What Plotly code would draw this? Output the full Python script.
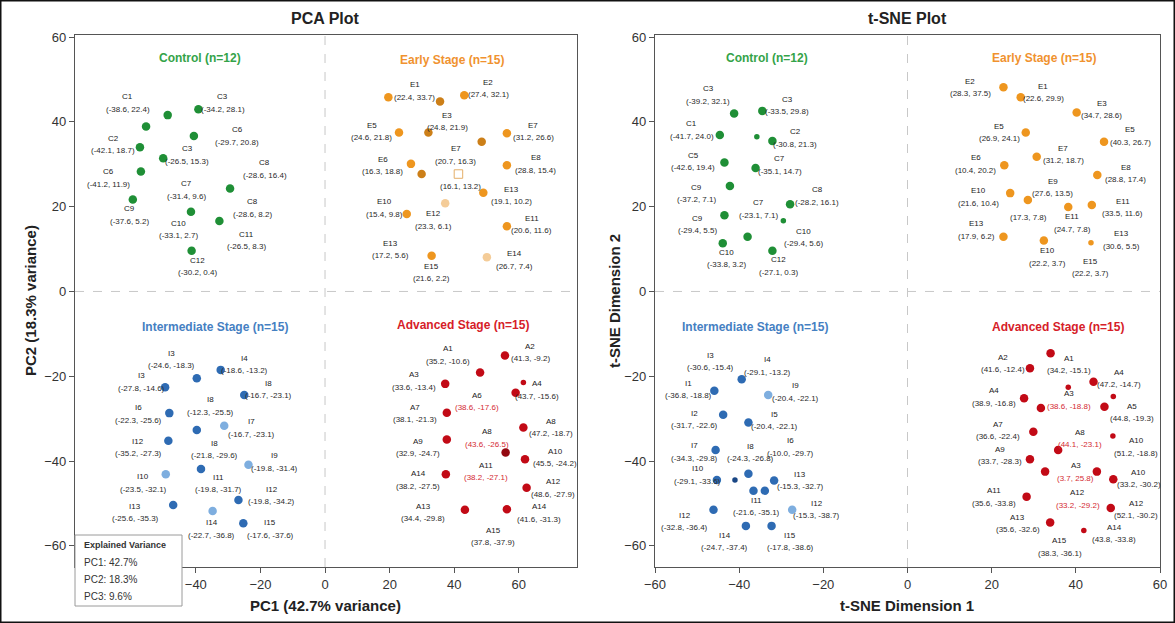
import plotly.graph_objects as go

# ---------------- DATA ----------------
group_titles = ["Control (n=12)", "Early Stage (n=15)", "Intermediate Stage (n=15)", "Advanced Stage (n=15)"]
pca_variance = {"PC1": 42.7, "PC2": 18.3, "PC3": 9.6}

# PCA points
pca_control_x = [-48.7, -39.2, -55.4, -40.6, -57.3, -50.1, -57.0, -29.4, -59.5, -41.5, -32.7, -41.3]
pca_control_y = [41.6, 43.0, 38.9, 36.7, 34.0, 31.4, 28.3, 24.3, 21.7, 18.8, 16.6, 9.6]
pca_control_tone = ["n"] * 12

pca_early_x = [19.6, 35.6, 43.1, 22.9, 32.0, 56.3, 48.5, 26.6, 56.3, 29.9, 41.3, 49.0, 37.2, 25.3, 56.3, 33.0, 50.1]
pca_early_y = [45.8, 44.8, 46.3, 37.5, 37.5, 37.3, 35.3, 30.1, 29.8, 27.7, 27.7, 23.3, 20.8, 18.3, 15.4, 8.4, 8.1]
pca_early_tone = ["n", "d", "n", "n", "d", "n", "d", "n", "n", "d", "q", "n", "p", "n", "n", "n", "p"]

pca_inter_x = [-32.3, -39.7, -49.5, -25.0, -48.2, -31.2, -39.7, -48.5, -23.7, -38.4, -49.3, -26.8, -47.0, -34.8, -25.3]
pca_inter_y = [-18.5, -20.5, -22.6, -24.4, -28.7, -31.7, -32.7, -35.2, -40.9, -41.9, -43.1, -49.2, -50.4, -51.8, -54.7]
pca_inter_tone = ["n", "n", "n", "n", "n", "p", "n", "n", "p", "n", "p", "n", "n", "p", "n"]

pca_adv_x = [55.7, 48.0, 37.2, 61.4, 59.0, 37.7, 61.4, 37.7, 55.9, 61.9, 37.4, 62.4, 43.3, 56.3]
pca_adv_y = [-15.1, -19.1, -21.8, -21.5, -23.9, -28.6, -32.1, -34.9, -38.0, -39.6, -43.1, -46.3, -51.5, -51.4]
pca_adv_tone = ["n", "n", "n", "s", "n", "n", "n", "n", "d", "n", "n", "n", "n", "n"]

# PCA point labels: names, coordinate texts, anchor (data coords)
pca_control_names = ["C1", "C3", "C6", "C2", "C3", "C6", "C8", "C7", "C9", "C8", "C10", "C11", "C12"]
pca_control_coords = ["(-38.6, 22.4)", "(-34.2, 28.1)", "(-29.7, 20.8)", "(-42.1, 18.7)", "(-26.5, 15.3)",
                      "(-41.2, 11.9)", "(-28.6, 16.4)", "(-31.4, 9.6)", "(-37.6, 5.2)", "(-28.6, 8.2)",
                      "(-33.1, 2.7)", "(-26.5, 8.3)", "(-30.2, 0.4)"]
pca_control_lx = [-61.1, -31.7, -27.1, -65.5, -42.6, -66.9, -18.6, -42.8, -60.4, -22.4, -45.4, -24.2, -39.5]
pca_control_ly = [44.4, 44.4, 36.6, 34.6, 32.1, 26.7, 28.8, 23.9, 18.0, 19.6, 14.6, 12.0, 5.8]

pca_early_names = ["E1", "E2", "E3", "E5", "E7", "E7", "E6", "E8", "", "E13", "E10", "E12", "E11", "E13", "E14", "E15"]
pca_early_coords = ["(22.4, 33.7)", "(27.4, 32.1)", "(24.8, 21.9)", "(24.6, 21.8)", "(31.2, 26.6)", "(20.7, 16.3)",
                    "(16.3, 18.8)", "(28.8, 15.4)", "(16.1, 13.2)", "(19.1, 10.2)", "(15.4, 9.8)", "(23.3, 6.1)",
                    "(20.6, 11.6)", "(17.2, 5.6)", "(26.7, 7.4)", "(21.6, 2.2)"]
pca_early_lx = [27.7, 50.6, 37.9, 14.5, 64.5, 40.5, 17.8, 65.3, 41.8, 57.8, 18.3, 33.7, 64.0, 20.4, 58.5, 33.0]
pca_early_ly = [47.2, 47.8, 40.0, 37.7, 37.7, 32.1, 29.6, 30.0, 26.1, 22.6, 19.6, 16.8, 15.7, 9.8, 7.4, 4.4]

pca_inter_names = ["I3", "I4", "I3", "I8", "I6", "I8", "I7", "I12", "I8", "I9", "I10", "I11", "I12", "I13", "I14", "I15"]
pca_inter_coords = ["(-24.6, -18.3)", "(-18.6, -13.2)", "(-27.8, -14.6)", "(-16.7, -23.1)", "(-22.3, -25.6)",
                    "(-12.3, -25.5)", "(-16.7, -23.1)", "(-35.2, -27.3)", "(-21.8, -29.6)", "(-19.8, -31.4)",
                    "(-23.5, -32.1)", "(-19.8, -31.7)", "(-19.8, -34.2)", "(-25.6, -35.3)", "(-22.7, -36.8)",
                    "(-17.6, -37.6)"]
pca_inter_lx = [-47.5, -24.8, -56.7, -17.6, -57.8, -35.6, -22.7, -57.8, -34.1, -15.5, -56.3, -33.0, -16.5, -58.8, -35.1, -17.0]
pca_inter_ly = [-16.1, -17.3, -21.4, -23.2, -29.0, -27.1, -32.3, -36.9, -37.3, -40.3, -45.2, -45.4, -48.2, -52.2, -56.1, -56.1]

pca_adv_names = ["A1", "A2", "A3", "A4", "A6", "A7", "A8", "A8", "A9", "A10", "A11", "A14", "A12", "A13", "A14", "A15"]
pca_adv_coords = ["(35.2, -10.6)", "(41.3, -9.2)", "(33.6, -13.4)", "(43.7, -15.6)", "(38.6, -17.6)",
                  "(38.1, -21.3)", "(47.2, -18.7)", "(43.6, -26.5)", "(32.9, -24.7)", "(45.5, -24.2)",
                  "(38.2, -27.1)", "(38.2, -27.5)", "(48.6, -27.9)", "(34.4, -29.8)", "(41.6, -31.3)",
                  "(37.8, -37.9)"]
pca_adv_lx = [38.2, 63.5, 27.6, 65.5, 47.0, 27.9, 69.9, 50.1, 28.9, 71.2, 49.8, 28.9, 70.7, 30.4, 66.3, 52.1]
pca_adv_ly = [-15.0, -14.4, -21.2, -23.3, -26.0, -28.8, -32.1, -34.6, -36.9, -39.2, -42.5, -44.5, -46.4, -52.2, -52.3, -57.9]
pca_adv_red = [4, 7, 10]

# t-SNE points
tsne_control_x = [-41.2, -34.5, -44.6, -35.8, -32.1, -43.5, -36.1, -42.2, -27.9, -43.5, -29.5, -38.0, -43.9, -32.1]
tsne_control_y = [42.0, 42.6, 36.9, 36.5, 35.5, 30.4, 29.1, 24.9, 20.6, 18.0, 16.7, 12.9, 11.4, 9.6]
tsne_control_tone = ["n", "n", "n", "s", "n", "n", "n", "n", "n", "n", "s", "n", "n", "n"]

tsne_early_x = [22.8, 26.9, 40.2, 28.1, 46.7, 30.7, 23.0, 45.1, 24.4, 28.6, 38.2, 43.8, 22.8, 32.4, 43.6]
tsne_early_y = [48.2, 45.8, 42.2, 37.5, 35.3, 31.8, 29.8, 27.5, 23.2, 21.6, 19.9, 20.4, 12.9, 12.0, 11.5]
tsne_early_tone = ["n"] * 14 + ["s"]

tsne_inter_x = [-39.4, -45.9, -33.1, -43.8, -37.8, -45.6, -37.8, -45.3, -41.0, -31.7, -36.6, -33.9, -46.1, -27.4, -38.4, -32.3]
tsne_inter_y = [-20.7, -23.4, -24.4, -29.1, -30.9, -37.4, -43.0, -44.5, -44.5, -44.6, -47.0, -47.0, -51.5, -51.5, -55.3, -55.3]
tsne_inter_tone = ["n", "n", "p", "n", "n", "n", "n", "n", "s", "n", "n", "n", "n", "p", "n", "n"]

tsne_adv_x = [34.0, 29.1, 44.2, 38.2, 48.9, 27.7, 31.7, 46.8, 29.9, 48.8, 35.8, 29.1, 32.7, 45.0, 48.9, 28.3, 48.3, 33.9, 41.9]
tsne_adv_y = [-14.6, -18.1, -21.3, -22.6, -24.8, -25.2, -27.5, -27.2, -33.1, -34.1, -37.4, -39.6, -42.5, -42.5, -44.3, -48.4, -51.1, -54.5, -56.4]
tsne_adv_tone = ["n", "n", "n", "s", "s", "n", "n", "n", "n", "s", "n", "n", "n", "n", "n", "n", "n", "n", "s"]

# t-SNE labels
tsne_control_names = ["C3", "C3", "C1", "C2", "C5", "C7", "C9", "C8", "C7", "C9", "C10", "C10", "C12"]
tsne_control_coords = ["(-39.2, 32.1)", "(-33.5, 29.8)", "(-41.7, 24.0)", "(-30.8, 21.3)", "(-42.6, 19.4)",
                       "(-35.1, 14.7)", "(-37.2, 7.1)", "(-28.2, 16.1)", "(-23.1, 7.1)", "(-29.4, 5.5)",
                       "(-29.4, 5.6)", "(-33.8, 3.2)", "(-27.1, 0.3)"]
tsne_control_lx = [-47.3, -28.6, -51.3, -26.7, -50.9, -30.3, -50.1, -21.4, -35.5, -49.9, -24.8, -43.0, -30.7]
tsne_control_ly = [46.3, 43.8, 38.0, 36.1, 30.6, 29.8, 23.1, 22.5, 19.4, 15.7, 12.7, 7.7, 6.0]

tsne_early_names = ["E2", "E1", "E3", "E5", "E5", "E7", "E6", "E8", "E9", "E10", "E11", "", "E11", "E13", "E13", "E10", "E15"]
tsne_early_coords = ["(28.3, 37.5)", "(22.6, 29.9)", "(34.7, 28.6)", "(26.9, 24.1)", "(40.3, 26.7)", "(31.2, 18.7)",
                     "(10.4, 20.2)", "(28.8, 17.4)", "(27.6, 13.5)", "(21.6, 10.4)", "(33.5, 11.6)", "(17.3, 7.8)",
                     "(24.7, 7.8)", "(17.9, 6.2)", "(30.6, 5.5)", "(22.2, 3.7)", "(22.2, 3.7)"]
tsne_early_lx = [14.9, 32.3, 46.1, 21.8, 52.9, 37.0, 16.2, 51.9, 34.5, 16.8, 51.1, 28.7, 39.2, 16.4, 50.9, 33.3, 43.4]
tsne_early_ly = [48.0, 46.9, 42.9, 37.4, 36.6, 32.3, 30.0, 27.8, 24.5, 22.2, 19.8, 18.9, 16.1, 14.4, 12.1, 8.1, 5.6]

tsne_inter_names = ["I3", "I4", "I1", "I9", "I2", "I5", "I7", "I8", "I6", "I10", "I13", "I11", "I12", "I12", "I14", "I15"]
tsne_inter_coords = ["(-30.6, -15.4)", "(-29.1, -13.2)", "(-36.8, -18.8)", "(-20.4, -22.1)", "(-31.7, -22.6)",
                     "(-20.4, -22.1)", "(-34.3, -29.8)", "(-24.3, -26.8)", "(-10.0, -29.7)", "(-29.1, -33.6)",
                     "(-15.3, -32.7)", "(-21.6, -35.1)", "(-15.3, -38.7)", "(-32.8, -36.4)", "(-24.7, -37.4)",
                     "(-17.8, -38.6)"]
tsne_inter_lx = [-46.9, -33.3, -52.1, -26.7, -50.7, -31.5, -50.7, -37.4, -27.7, -49.9, -25.5, -35.8, -21.6, -52.9, -43.4, -27.9]
tsne_inter_ly = [-16.6, -17.7, -23.2, -23.8, -30.3, -30.5, -37.9, -38.0, -36.8, -43.4, -44.6, -50.8, -51.5, -54.3, -59.0, -59.0]

tsne_adv_names = ["A2", "A1", "A4", "A4", "A3", "A5", "A7", "A8", "A10", "A9", "A3", "A10", "A11", "A12", "A12", "A13", "A14", "A15"]
tsne_adv_coords = ["(41.6, -12.4)", "(34.2, -15.1)", "(47.2, -14.7)", "(38.9, -16.8)", "(38.6, -18.8)",
                   "(44.8, -19.3)", "(36.6, -22.4)", "(44.1, -23.1)", "(51.2, -18.8)", "(33.7, -28.3)",
                   "(3.7, 25.8)", "(33.2, -30.2)", "(35.6, -33.8)", "(33.2, -29.2)", "(52.1, -30.2)",
                   "(35.6, -32.6)", "(43.8, -33.8)", "(38.3, -36.1)"]
tsne_adv_lx = [22.8, 38.4, 50.3, 20.6, 38.3, 53.3, 21.6, 41.0, 54.3, 22.0, 40.0, 54.9, 20.5, 40.4, 54.3, 26.2, 49.1, 36.2]
tsne_adv_ly = [-17.1, -17.3, -20.6, -25.0, -25.7, -28.6, -32.9, -34.7, -36.7, -38.8, -42.7, -44.2, -48.6, -49.0, -51.5, -54.8, -57.1, -60.3]
tsne_adv_red = [4, 7, 10, 13]

# group title anchors
pca_title_pos = [(-38.7, 55.0), (39.2, 54.6), (-34.1, -8.3), (42.8, -7.9)]
tsne_title_pos = [(-33.5, 55.0), (32.4, 55.0), (-36.2, -8.3), (35.8, -8.3)]

axis_ticks = [-60, -40, -20, 0, 20, 40, 60]

# ---------------- STYLE ----------------
W, H = 1175, 623
FONT = "Liberation Sans, Arial, Helvetica, sans-serif"
palette = {
    "green": {"n": "#1F8F36", "d": "#17752B", "p": "#86C892", "s": "#1F8F36", "q": "#1F8F36", "title": "#34A348"},
    "orange": {"n": "#EE961F", "d": "#CC7F18", "p": "#F4CC98", "s": "#EE961F", "q": "#E4AE68", "title": "#F0922F"},
    "blue": {"n": "#2E6BB3", "d": "#1A4785", "p": "#7EAEDF", "s": "#1A4785", "q": "#2E6BB3", "title": "#4580C2"},
    "red": {"n": "#C20A16", "d": "#930810", "p": "#E57C84", "s": "#C20A16", "q": "#C20A16", "title": "#D62028"},
}
group_colors = ["green", "orange", "blue", "red"]
RED_TEXT = "#D42A32"


def px_to_paper_x(p):
    return p / W


def px_to_paper_y(p):
    return 1 - p / H


fig = go.Figure()

plots = [
    {
        "xa": "x", "ya": "y",
        "groups": [
            (pca_control_x, pca_control_y, pca_control_tone, pca_control_names, pca_control_coords, pca_control_lx, pca_control_ly, []),
            (pca_early_x, pca_early_y, pca_early_tone, pca_early_names, pca_early_coords, pca_early_lx, pca_early_ly, []),
            (pca_inter_x, pca_inter_y, pca_inter_tone, pca_inter_names, pca_inter_coords, pca_inter_lx, pca_inter_ly, []),
            (pca_adv_x, pca_adv_y, pca_adv_tone, pca_adv_names, pca_adv_coords, pca_adv_lx, pca_adv_ly, pca_adv_red),
        ],
        "titles": pca_title_pos,
    },
    {
        "xa": "x2", "ya": "y2",
        "groups": [
            (tsne_control_x, tsne_control_y, tsne_control_tone, tsne_control_names, tsne_control_coords, tsne_control_lx, tsne_control_ly, []),
            (tsne_early_x, tsne_early_y, tsne_early_tone, tsne_early_names, tsne_early_coords, tsne_early_lx, tsne_early_ly, []),
            (tsne_inter_x, tsne_inter_y, tsne_inter_tone, tsne_inter_names, tsne_inter_coords, tsne_inter_lx, tsne_inter_ly, []),
            (tsne_adv_x, tsne_adv_y, tsne_adv_tone, tsne_adv_names, tsne_adv_coords, tsne_adv_lx, tsne_adv_ly, tsne_adv_red),
        ],
        "titles": tsne_title_pos,
    },
]

annotations = []
for plot in plots:
    xa, ya = plot["xa"], plot["ya"]
    # quadrant dashed lines
    fig.add_shape(type="line", xref=xa, yref=f"{ya} domain", x0=0, x1=0, y0=0, y1=1,
                  line=dict(color="#C8C8C8", width=1, dash="dash"), layer="below")
    fig.add_shape(type="line", xref=f"{xa} domain", yref=ya, x0=0, x1=1, y0=0, y1=0,
                  line=dict(color="#C8C8C8", width=1, dash="dash"), layer="below")
    for gi, (gx, gy, tone, names, coords, lx, ly, red) in enumerate(plot["groups"]):
        pal = palette[group_colors[gi]]
        colors = [pal[t] for t in tone]
        sizes = [5.5 if t == "s" else 8.5 for t in tone]
        symbols = ["square-open" if t == "q" else "circle" for t in tone]
        fig.add_trace(go.Scatter(
            x=gx, y=gy, mode="markers", xaxis=xa, yaxis=ya, showlegend=False,
            marker=dict(color=colors, size=sizes, symbol=symbols, opacity=1, line=dict(width=0)),
            hoverinfo="x+y",
        ))
        for i in range(len(names)):
            if names[i]:
                annotations.append(dict(x=lx[i], y=ly[i], xref=xa, yref=ya, text=names[i], showarrow=False,
                                        yshift=6.5, font=dict(size=8, color="#1A1A1A", family=FONT)))
            annotations.append(dict(x=lx[i], y=ly[i], xref=xa, yref=ya, text=coords[i], showarrow=False,
                                    yshift=-6, font=dict(size=8, color=RED_TEXT if i in red else "#2A2A2A", family=FONT)))
        tx, ty = plot["titles"][gi]
        annotations.append(dict(x=tx, y=ty, xref=xa, yref=ya, text=f"<b>{group_titles[gi]}</b>", showarrow=False,
                                font=dict(size=12, color=pal["title"], family=FONT)))

# main titles and axis titles
for txt, xp, yp, rot, size in [
    ("<b>PCA Plot</b>", 325, 18, 0, 16),
    ("<b>t-SNE Plot</b>", 907, 18, 0, 16),
    (f"<b>PC1 ({pca_variance['PC1']}% variance)</b>", 325, 605, 0, 15),
    ("<b>t-SNE Dimension 1</b>", 907, 605, 0, 15),
    (f"<b>PC2 ({pca_variance['PC2']}% variance)</b>", 30, 301, -90, 15),
    ("<b>t-SNE Dimension 2</b>", 614, 301, -90, 15),
]:
    annotations.append(dict(x=px_to_paper_x(xp), y=px_to_paper_y(yp), xref="paper", yref="paper", text=txt,
                            showarrow=False, textangle=rot, xanchor="center", yanchor="middle",
                            font=dict(size=size, color="#222222", family=FONT)))

# explained variance box
fig.add_shape(type="rect", xref="paper", yref="paper",
              x0=px_to_paper_x(75), x1=px_to_paper_x(182), y0=px_to_paper_y(606), y1=px_to_paper_y(535),
              line=dict(color="#9A9A9A", width=1), fillcolor="white", layer="above")
annotations.append(dict(x=px_to_paper_x(82), y=px_to_paper_y(545), xref="paper", yref="paper",
                        text="<b>Explained Variance</b>", showarrow=False, xanchor="left", yanchor="middle",
                        font=dict(size=9, color="#333333", family=FONT)))
for k, (key, val) in enumerate(pca_variance.items()):
    annotations.append(dict(x=px_to_paper_x(82), y=px_to_paper_y(562 + 17 * k), xref="paper", yref="paper",
                            text=f"{key}: {val}%", showarrow=False, xanchor="left", yanchor="middle",
                            font=dict(size=10, color="#333333", family=FONT)))

# outer border
fig.add_shape(type="rect", xref="paper", yref="paper", x0=0, x1=1, y0=0, y1=1,
              line=dict(color="#111111", width=3), layer="above")

axis_common = dict(showgrid=False, zeroline=False, showline=True, linecolor="#555555", linewidth=1.3,
                   mirror=True, ticks="outside", ticklen=5, tickcolor="#555555", automargin=False,
                   tickfont=dict(size=13, color="#333333", family=FONT), fixedrange=True)

fig.update_layout(
    width=W, height=H, margin=dict(l=0, r=0, t=0, b=0, pad=0), autosize=False,
    paper_bgcolor="white", plot_bgcolor="white", showlegend=False,
    font=dict(family=FONT),
    xaxis=dict(domain=[px_to_paper_x(75), px_to_paper_x(577)], range=[-77.4, 78.0],
               tickvals=[t for t in axis_ticks if t != -60], anchor="y", **axis_common),
    yaxis=dict(domain=[px_to_paper_y(567), px_to_paper_y(35)], range=[-65.0, 60.5],
               tickvals=axis_ticks, anchor="x", **axis_common),
    xaxis2=dict(domain=[px_to_paper_x(655), px_to_paper_x(1160)], range=[-60, 60],
                tickvals=axis_ticks, anchor="y2", **axis_common),
    yaxis2=dict(domain=[px_to_paper_y(567), px_to_paper_y(35)], range=[-65.0, 60.5],
                tickvals=axis_ticks, anchor="x2", **axis_common),
    annotations=annotations,
)

fig.write_html("out.html", config={"responsive": False, "displayModeBar": False},
               post_script="document.body.style.margin='0';document.body.style.overflow='hidden';")
